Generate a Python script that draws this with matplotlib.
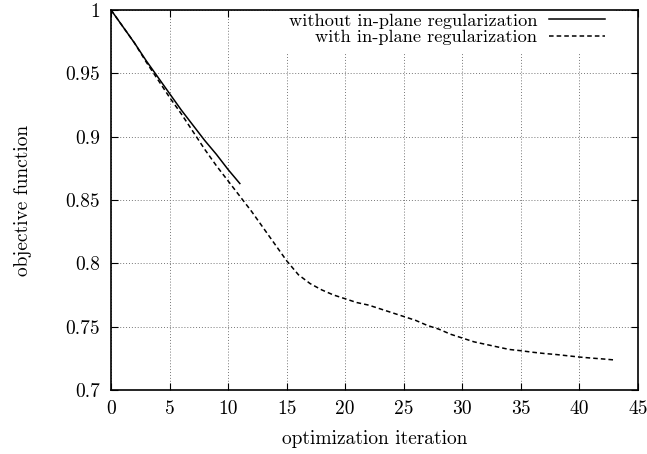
import matplotlib.pyplot as plt
from matplotlib.ticker import FixedLocator, FuncFormatter

plt.rcParams['font.family'] = ['cmr10', 'DejaVu Serif']
plt.rcParams['mathtext.fontset'] = 'cm'
plt.rcParams['axes.formatter.use_mathtext'] = True

# datos
iter_without = list(range(0, 12))
obj_without = [1.0, 0.987, 0.974, 0.960, 0.947, 0.934, 0.921, 0.909, 0.897, 0.886, 0.874, 0.863]

iter_with = list(range(0, 44))
obj_with = [1.0, 0.987, 0.974, 0.959, 0.945, 0.931, 0.918, 0.904, 0.890, 0.877,
            0.865, 0.853, 0.841, 0.828, 0.815, 0.802, 0.791, 0.784, 0.779, 0.775,
            0.772, 0.769, 0.767, 0.764, 0.761, 0.758, 0.755, 0.751, 0.748, 0.744,
            0.741, 0.738, 0.736, 0.734, 0.732, 0.731, 0.7298, 0.7288, 0.728, 0.727,
            0.726, 0.7252, 0.7245, 0.7237]

xticks = [0, 5, 10, 15, 20, 25, 30, 35, 40, 45]
yticks = [0.7, 0.75, 0.8, 0.85, 0.9, 0.95, 1.0]

fig = plt.figure(figsize=(6.47, 4.54), dpi=100)
ax = fig.add_axes([0.1716, 0.141, 0.8145, 0.837])

ax.plot(iter_without, obj_without, color='black', lw=1.1,
        label='without in-plane regularization')
ax.plot(iter_with, obj_with, color='black', lw=1.1, linestyle=(0, (3, 2)),
        label='with in-plane regularization')

ax.set_xlim(0, 45)
ax.set_ylim(0.7, 1.0)
ax.xaxis.set_major_locator(FixedLocator(xticks))
ax.yaxis.set_major_locator(FixedLocator(yticks))
ax.xaxis.set_major_formatter(FuncFormatter(lambda v, p: f'{v:g}'))
ax.yaxis.set_major_formatter(FuncFormatter(lambda v, p: f'{v:g}'))
ax.tick_params(direction='in', length=5, width=0.8, top=True, right=True,
               labelsize=14)
ax.tick_params(axis='x', pad=7)
ax.tick_params(axis='y', pad=8)
ax.grid(True, color='#777777', linestyle=(0, (1, 2)), linewidth=0.7)
for s in ax.spines.values():
    s.set_linewidth(1.2)

ax.set_xlabel('optimization iteration', fontsize=14, labelpad=9)
ax.set_ylabel('objective function', fontsize=14, labelpad=24)

leg = ax.legend(loc='upper right', bbox_to_anchor=(0.9535, 1.014),
                markerfirst=False, frameon=True, fontsize=13.2,
                handlelength=3.06, borderaxespad=0.0, borderpad=0.45,
                labelspacing=0.02, handletextpad=0.65, fancybox=False)
leg.get_frame().set_edgecolor('none')
leg.get_frame().set_facecolor('white')
leg.get_frame().set_alpha(1.0)
leg.set_zorder(2.2)

plt.savefig('out.png', dpi=100)
